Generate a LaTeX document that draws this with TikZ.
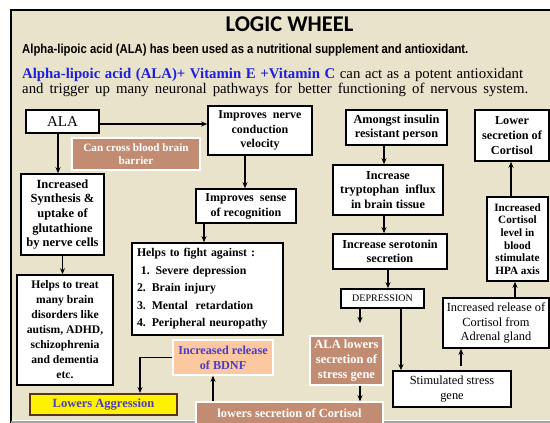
\documentclass[tikz,border=0pt]{standalone}
\usepackage{fontspec}
\setmainfont{Liberation Serif}
\newfontfamily\titlefont{Carlito}
\newfontfamily\narrowfont[FakeStretch=0.87]{Liberation Sans}
\usetikzlibrary{arrows.meta,calc}
\definecolor{bgbeige}{RGB}{233,227,204}
\definecolor{brownbox}{RGB}{194,140,114}
\definecolor{peach}{RGB}{252,200,160}
\definecolor{bluetext}{RGB}{30,30,225}
\definecolor{purpletext}{RGB}{75,60,200}
\definecolor{aggrborder}{RGB}{90,55,20}
\begin{document}
\begin{tikzpicture}[x=1pt,y=-1pt,
  wbox/.style={draw=black,line width=1.6pt,fill=white,align=center,inner sep=0pt,
    font=\fontsize{12.2}{14.6}\selectfont\bfseries},
  plainbox/.style={wbox,font=\fontsize{12.5}{14.5}\selectfont},
  brbox/.style={draw=white,line width=1.4pt,fill=brownbox,text=white,align=center,inner sep=0pt,
    font=\fontsize{11.2}{13}\selectfont\bfseries},
  arr/.style={-{Stealth[length=6pt,width=5pt]},line width=1.5pt,draw=black}]
\useasboundingbox (0,0) rectangle (550,423);
\clip (0,0) rectangle (550,423);
% frame
\fill[white] (0,0) rectangle (550,423);
\fill[bgbeige] (11,10) rectangle (552,420);
\draw[line width=2pt] (11,425) -- (11,10) -- (552,10);
\draw[black!35,line width=2pt] (11,421.5) -- (552,421.5);
% header
\node[anchor=base,inner sep=0pt,font=\titlefont\bfseries\fontsize{22.5}{22.5}\selectfont] (title) at (289.5,31) {LOGIC WHEEL};
\node[anchor=base west,inner sep=0pt,font=\narrowfont\bfseries\fontsize{13}{13}\selectfont] (sub) at (22,53)
  {Alpha-lipoic acid (ALA) has been used as a nutritional supplement and antioxidant.};
\node[anchor=base west,inner sep=0pt,font=\fontsize{14.8}{15}\selectfont] (blue1) at (22,78)
  {\makebox[501pt][s]{{\color{bluetext}\bfseries Alpha-lipoic acid (ALA)+ Vitamin E +Vitamin C} can act as a potent antioxidant}};
\node[anchor=base west,inner sep=0pt,font=\fontsize{14.8}{15}\selectfont] (blue2) at (22,93.5)
  {\makebox[506pt][s]{and trigger up many neuronal pathways for better functioning of nervous system.}};
% left column
\node[plainbox,minimum width=73,minimum height=23,font=\fontsize{15}{15}\selectfont] (ala) at (62.5,121.5) {ALA};
\node[brbox,minimum width=128,minimum height=32] (cross) at (136,154) {Can cross blood brain\\barrier};
\node[wbox,minimum width=83,minimum height=81,font=\fontsize{12.5}{14.6}\selectfont\bfseries] (synth) at (62.5,214.5)
  {Increased\\Synthesis \&\\uptake of\\glutathione\\by nerve cells};
\node[wbox,minimum width=96,minimum height=110,font=\fontsize{11.6}{15}\selectfont\bfseries] (treat) at (65,330)
  {Helps to treat\\many brain\\disorders like\\autism, ADHD,\\schizophrenia\\and dementia\\etc.};
\node[draw=aggrborder,line width=2pt,fill=yellow,text=purpletext,inner sep=0pt,minimum width=147,minimum height=21,
  font=\fontsize{12.5}{13}\selectfont\bfseries] (aggr) at (103.5,404.5) {Lowers Aggression};
% middle column
\node[wbox,minimum width=104,minimum height=49,font=\fontsize{12}{14.5}\selectfont\bfseries] (nerve) at (260,130.5) {Improves\ \ nerve\\conduction\\velocity};
\node[wbox,minimum width=100,minimum height=34,font=\fontsize{12}{15}\selectfont\bfseries] (sense) at (246,206) {Improves\ \ sense\\of recognition};
\node[wbox,text width=141,align=left,inner xsep=5pt,minimum height=92,
  font=\fontsize{11.8}{17.5}\selectfont\bfseries] (fight) at (207.5,289)
  {Helps to fight against :\\\ 1. Severe depression\\2. Brain injury\\3. Mental\ \ retardation\\4. Peripheral neuropathy};
\node[draw=white,line width=1.4pt,fill=peach,text=purpletext,align=center,inner sep=0pt,minimum width=100,minimum height=35,
  font=\fontsize{12.2}{15}\selectfont\bfseries] (bdnf) at (223,357.5) {Increased release\\of BDNF};
\node[brbox,minimum width=187,minimum height=23,font=\fontsize{12.4}{13}\selectfont\bfseries] (lowcort) at (289.5,413.5) {lowers secretion of Cortisol};
% right part
\node[wbox,minimum width=101,minimum height=35,font=\fontsize{12.3}{14.6}\selectfont\bfseries] (insulin) at (396.5,127.5) {Amongst insulin\\resistant person};
\node[wbox,minimum width=110,minimum height=50] (trypto) at (388,190) {Increase\\tryptophan\ \ influx\\in brain tissue};
\node[wbox,minimum width=114,minimum height=35] (sero) at (390,251.5) {Increase serotonin\\secretion};
\node[wbox,minimum width=74,minimum height=51] (lowerc) at (512,135.5) {Lower\\secretion of\\Cortisol};
\node[wbox,minimum width=61,minimum height=84,font=\fontsize{11.2}{12.7}\selectfont\bfseries] (hpa) at (517.5,239)
  {Increased\\Cortisol\\level in\\blood\\stimulate\\HPA axis};
\node[plainbox,minimum width=83,minimum height=19,font=\fontsize{10}{12}\selectfont] (depr) at (382.5,298.5) {DEPRESSION};
\node[brbox,minimum width=73,minimum height=49,font=\fontsize{12.5}{14.8}\selectfont\bfseries] (alalow) at (346.5,360.5)
  {ALA lowers\\secretion of\\stress gene};
\node[plainbox,minimum width=118,minimum height=36,font=\fontsize{12.4}{15}\selectfont] (stim) at (452,389) {Stimulated stress\\gene};
\node[plainbox,minimum width=106,minimum height=50,font=\fontsize{12.4}{14.5}\selectfont] (adrenal) at (496,323)
  {Increased release of\\Cortisol from\\Adrenal gland};
\coordinate (dend) at (360,323);
% connectors
\draw[arr] ($(ala.east)+(0,2.5)$) -- ($(ala.east -| nerve.west)+(0,2.5)$);
\draw[arr] ([xshift=-4.5pt]ala.south) -- ([xshift=-4.5pt]ala.south |- synth.north);
\draw[arr] (synth.south) -- (synth.south |- treat.north);
\draw[arr] ([xshift=-1pt]sense.north |- nerve.south) -- ([xshift=-1pt]sense.north);
\draw[arr] ([xshift=-3.5pt]fight.north |- sense.south) -- ([xshift=-3.5pt]fight.north);
\draw[arr] (bdnf.west) -| ([xshift=36.5pt]aggr.north);
\draw[arr] ([xshift=-10pt]bdnf.south |- lowcort.north) -- ([xshift=-10pt]bdnf.south);
\draw[arr] ([xshift=-4pt]trypto.north |- insulin.south) -- ([xshift=-4pt]trypto.north);
\draw[arr] ([xshift=-4pt]trypto.south) -- ([xshift=-4pt]trypto.south |- sero.north);
\draw[arr] ([xshift=5.5pt]depr.north |- sero.south) -- ([xshift=5.5pt]depr.north);
\draw[arr] (depr.south -| dend) -- (dend);
\draw[arr] ([xshift=18.5pt]depr.south) -- ([xshift=18.5pt]depr.south |- stim.north);
\draw[arr] ([xshift=13.5pt]alalow.south) -- ([xshift=13.5pt]alalow.south |- lowcort.north);
\draw[arr] ([xshift=9pt,yshift=4pt]stim.north) -- ([xshift=9pt]stim.north |- adrenal.south);
\draw[arr] ([xshift=-2.5pt]hpa.south |- adrenal.north) -- ([xshift=-2.5pt]hpa.south);
\draw[arr] ([xshift=-6.5pt]hpa.north) -- ([xshift=-6.5pt]hpa.north |- lowerc.south);
\end{tikzpicture}
\end{document}
